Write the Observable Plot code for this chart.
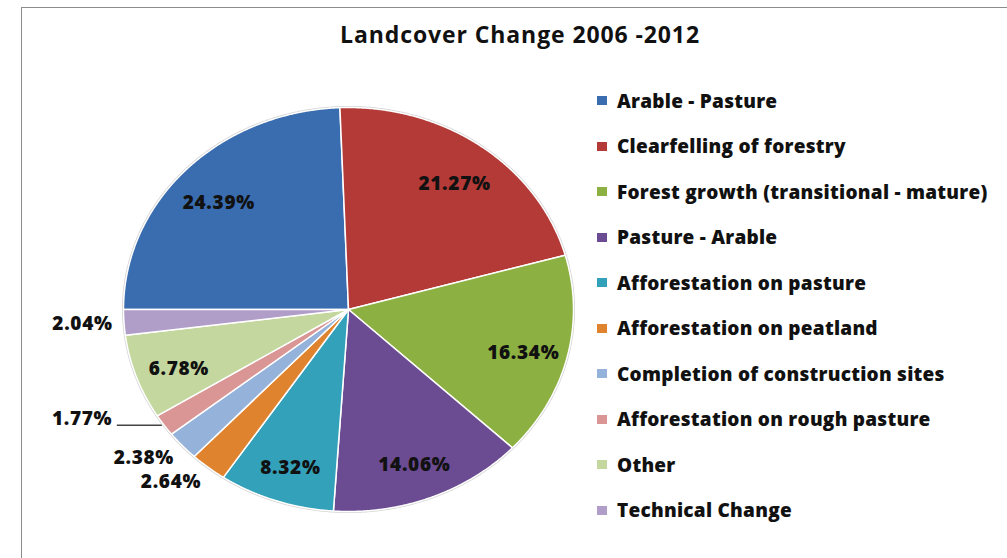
<!DOCTYPE html>
<html><head><meta charset="utf-8">
<script src="https://cdn.jsdelivr.net/npm/d3@7"></script>
<script src="https://cdn.jsdelivr.net/npm/@observablehq/plot@0.6"></script>
<style>
body{margin:0;background:#fff;font-family:"Open Sans",sans-serif;}
#wrap{position:relative;width:1007px;height:558px;overflow:hidden;background:#fff;}
#frame{position:absolute;left:21px;top:7px;width:1100px;height:700px;border-left:1.5px solid #8c8c8c;border-top:1.5px solid #8c8c8c;}
#title{position:absolute;left:21px;width:998px;top:18px;text-align:center;font-weight:700;font-size:23px;letter-spacing:0.9px;color:#111;}
#chart{position:absolute;left:0;top:0;}
#chart svg text{letter-spacing:0.7px;}
#legend{position:absolute;left:597px;top:78px;}
.row{height:45.5px;display:flex;align-items:center;}
.sw{width:10px;height:9px;margin-right:10px;flex:none;}
.lab{font-weight:800;font-size:19px;letter-spacing:0.25px;color:#111;white-space:nowrap;}
</style></head>
<body>
<div id="wrap">
  <div id="frame"></div>
  <div id="title"></div>
  <div id="chart"></div>
  <div id="legend"></div>
</div>
<script>
const categories = ["Arable - Pasture","Clearfelling of forestry","Forest growth (transitional - mature)","Pasture - Arable","Afforestation on pasture","Afforestation on peatland","Completion of construction sites","Afforestation on rough pasture","Other","Technical Change"];
const shares = [24.39,21.27,16.34,14.06,8.32,2.64,2.38,1.77,6.78,2.04];
const colors = ["#3A6DAF","#B43A37","#8CB041","#6B4B91","#34A1BB","#E0832F","#95B2DA","#D99694","#C4D79E","#B09DC8"];
const leaderLabels = ["Afforestation on rough pasture"];
const titleText = "Landcover Change 2006 -2012";

document.getElementById("title").textContent = titleText;

const arcs = d3.pie().sort(null).startAngle(1.5*Math.PI).endAngle(3.5*Math.PI)(shares);
const wedgePts = [];
arcs.forEach((a,i)=>{
  const name = categories[i];
  wedgePts.push({name, x:0, y:0});
  const n = Math.max(2, Math.ceil((a.endAngle-a.startAngle)/0.004));
  for (let k=0;k<=n;k++){
    const t = a.startAngle + (a.endAngle-a.startAngle)*k/n;
    wedgePts.push({name, x:Math.sin(t), y:Math.cos(t)});
  }
  wedgePts.push({name, x:0, y:0});
});
const rim = d3.range(0, 2*Math.PI + 0.004, 0.004).map(t=>({x:Math.sin(t), y:Math.cos(t)}));

const labelRows = arcs.map((a,i)=>{
  const m=(a.startAngle+a.endAngle)/2, s=Math.sin(m), c=Math.cos(m);
  return {name:categories[i], text:shares[i].toFixed(2)+"%", s, c,
          inside: shares[i] >= 5, leader: leaderLabels.includes(categories[i])};
});
const insideL = labelRows.filter(d=>d.inside);
const outsideL = labelRows.filter(d=>!d.inside && !d.leader);
const leaderL = labelRows.filter(d=>d.leader);

const plot = Plot.plot({
  width:1007, height:558,
  marginLeft:123, marginRight:434, marginTop:107, marginBottom:47,
  x:{domain:[-1,1], axis:null},
  y:{domain:[-1,1], axis:null},
  color:{domain:categories, range:colors},
  style:{background:"transparent", fontFamily:"Open Sans"},
  marks:[
    Plot.line(rim,{x:"x", y:"y", stroke:"#d4d4d4", strokeWidth:3}),
    Plot.line(wedgePts,{x:"x", y:"y", z:"name", fill:"name", stroke:"white", strokeWidth:1.5, strokeLinejoin:"round"}),
    Plot.text(insideL,{x:d=>0.8*d.s, y:d=>0.8*d.c, dy:5, text:"text", fontSize:19, fontWeight:800, fill:"#111"}),
    Plot.text(outsideL,{x:d=>1.05*d.s, y:d=>1.09*d.c, text:"text", textAnchor:"end", fontSize:19, fontWeight:800, fill:"#111"}),
    Plot.link(leaderL,{x1:d=>d.s-0.21, x2:d=>d.s-0.01, y1:"c", y2:"c", stroke:"#444", strokeWidth:1.5}),
    Plot.text(leaderL,{x:d=>d.s-0.23, y:"c", dy:-6, text:"text", textAnchor:"end", fontSize:19, fontWeight:800, fill:"#111"})
  ]
});
document.getElementById("chart").appendChild(plot);

const leg = document.getElementById("legend");
categories.forEach((c,i)=>{
  const row = document.createElement("div"); row.className="row";
  const sw = document.createElement("div"); sw.className="sw"; sw.style.background=colors[i];
  const lb = document.createElement("div"); lb.className="lab"; lb.textContent=c;
  row.appendChild(sw); row.appendChild(lb); leg.appendChild(row);
});
</script>
</body></html>
